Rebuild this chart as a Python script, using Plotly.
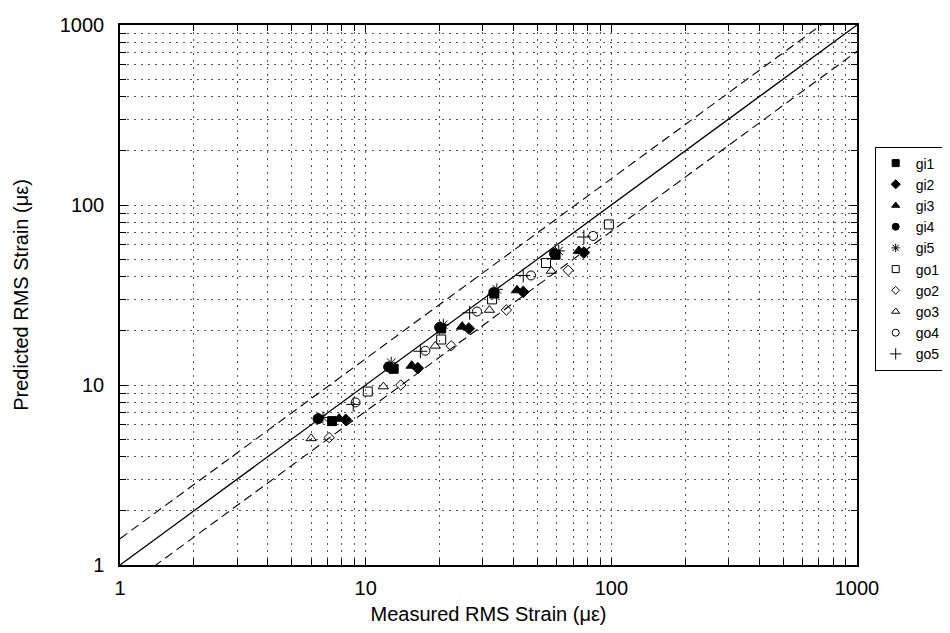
import plotly.graph_objects as go

# ---------------- data ----------------
gi1_x = [7.3, 13.0, 20.3, 33.4, 59.3]
gi1_y = [6.3, 12.3, 20.6, 32.2, 52.9]
gi2_x = [8.3, 16.3, 26.3, 43.8, 77.3]
gi2_y = [6.4, 12.4, 20.6, 32.9, 54.4]
gi3_x = [7.8, 15.4, 24.7, 41.3, 73.8]
gi3_y = [6.5, 12.8, 21.1, 33.6, 55.6]
gi4_x = [6.4, 12.4, 20.0, 33.2, 58.7]
gi4_y = [6.5, 12.6, 20.9, 32.6, 53.7]
gi5_x = [6.7, 12.7, 20.7, 34.2, 61.1]
gi5_y = [6.6, 13.3, 21.6, 34.0, 55.6]
go1_x = [10.2, 20.3, 32.7, 54.2, 97.7]
go1_y = [9.2, 17.9, 29.9, 47.6, 78.0]
go2_x = [7.1, 13.9, 22.3, 37.4, 66.7]
go2_y = [5.1, 10.0, 16.5, 26.1, 43.4]
go3_x = [6.0, 11.8, 19.2, 31.9, 57.0]
go3_y = [5.05, 9.8, 16.5, 26.1, 43.0]
go4_x = [9.1, 17.5, 28.4, 47.1, 84.3]
go4_y = [8.0, 15.5, 25.6, 40.6, 67.3]
go5_x = [8.9, 16.7, 26.5, 43.8, 77.3]
go5_y = [7.8, 15.4, 25.2, 40.6, 66.4]

series_names = ["gi1", "gi2", "gi3", "gi4", "gi5", "go1", "go2", "go3", "go4", "go5"]
series_x = [gi1_x, gi2_x, gi3_x, gi4_x, gi5_x, go1_x, go2_x, go3_x, go4_x, go5_x]
series_y = [gi1_y, gi2_y, gi3_y, gi4_y, gi5_y, go1_y, go2_y, go3_y, go4_y, go5_y]

# reference lines: y = x and y = x*ratio, y = x/ratio
ref_x = [1, 1000]
ratio = 1.4

major_ticks = [1, 10, 100, 1000]
major_labels = ["1", "10", "100", "1000"]
minor_ticks = [m * d for d in (1, 10, 100) for m in range(2, 10)]

# ---------------- styles ----------------
symbols = ["square", "diamond", "triangle-up", "circle", "asterisk-open",
           "square-open", "diamond-open", "triangle-up-open", "circle-open", "cross-thin-open"]
sizes = [9, 9, 10, 10, 10, 9, 8, 9, 9, 10]
legend_sizes = [7, 7, 7, 7, 7, 7, 6, 7, 7, 8]

FONT = "Liberation Sans, Arial, sans-serif"

fig = go.Figure()

fig.add_trace(go.Scatter(x=ref_x, y=ref_x, mode="lines",
                         line=dict(color="black", width=1.3), showlegend=False, hoverinfo="skip"))
fig.add_trace(go.Scatter(x=ref_x, y=[v * ratio for v in ref_x], mode="lines",
                         line=dict(color="black", width=1.1, dash="9px,5px"),
                         showlegend=False, hoverinfo="skip"))
fig.add_trace(go.Scatter(x=ref_x, y=[v / ratio for v in ref_x], mode="lines",
                         line=dict(color="black", width=1.1, dash="9px,5px"),
                         showlegend=False, hoverinfo="skip"))

for name, xs, ys, sym, sz, lsz in zip(series_names, series_x, series_y, symbols, sizes, legend_sizes):
    fig.add_trace(go.Scatter(
        x=xs, y=ys, mode="markers", name=name, legendgroup=name, showlegend=False,
        marker=dict(symbol=sym, size=sz, color="black",
                    line=dict(color="black", width=1)),
    ))
    # legend entry with the smaller legend glyph
    fig.add_trace(go.Scatter(
        x=[None], y=[None], mode="markers", name=name, legendgroup=name, showlegend=True,
        marker=dict(symbol=sym, size=lsz, color="black",
                    line=dict(color="black", width=1)),
    ))

axis_common = dict(
    type="log",
    range=[0, 3],
    tickmode="array",
    tickvals=major_ticks,
    ticktext=major_labels,
    ticks="inside",
    ticklen=7,
    tickcolor="black",
    showline=True,
    linecolor="black",
    linewidth=1.5,
    mirror="allticks",
    showgrid=True,
    gridcolor="#555555",
    griddash="2px,5px",
    gridwidth=1,
    zeroline=False,
    automargin=False,
    tickfont=dict(family=FONT, size=20, color="black"),
    minor=dict(tickmode="array", tickvals=minor_ticks, ticks="inside", ticklen=6,
               tickcolor="black", showgrid=True, gridcolor="#555555",
               griddash="2px,5px", gridwidth=1),
)

fig.update_xaxes(**axis_common, ticklabelstandoff=4,
                 title=dict(text="Measured RMS Strain (με)",
                            font=dict(family=FONT, size=20, color="black"), standoff=9))
fig.update_yaxes(**axis_common, ticklabelstandoff=10,
                 title=dict(text="Predicted RMS Strain (με)",
                            font=dict(family=FONT, size=20, color="black"), standoff=26))

fig.update_layout(
    width=950, height=633,
    margin=dict(l=112, r=101, t=17, b=76),
    plot_bgcolor="white",
    paper_bgcolor="white",
    showlegend=True,
    legend=dict(
        x=1.024, xanchor="left", y=0.775, yanchor="top",
        bgcolor="white", bordercolor="black", borderwidth=1,
        font=dict(family=FONT, size=14, color="black"),
        itemwidth=30, tracegroupgap=0,
    ),
)

fig.write_html("out.html")
